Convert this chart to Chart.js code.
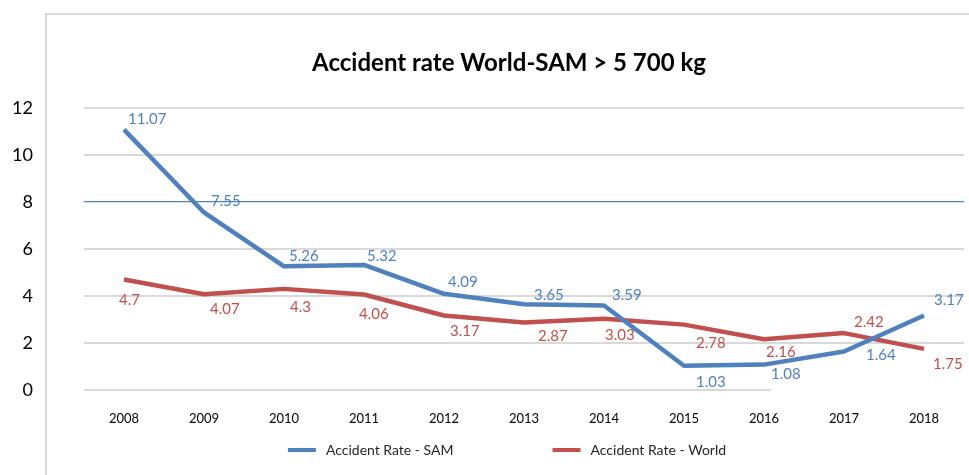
<!DOCTYPE html>
<html>
<head>
<meta charset="utf-8">
<title>Accident rate World-SAM</title>
<script src="https://cdn.jsdelivr.net/npm/chart.js@4.4.1/dist/chart.umd.min.js"></script>
<style>
  html, body { margin: 0; padding: 0; background: #fff; }
</style>
</head>
<body>
<canvas id="accidentChart" width="969" height="475"></canvas>
<script>
/* data */
const years = ['2008', '2009', '2010', '2011', '2012', '2013', '2014', '2015', '2016', '2017', '2018'];
const samRate = [11.07, 7.55, 5.26, 5.32, 4.09, 3.65, 3.59, 1.03, 1.08, 1.64, 3.17];
const worldRate = [4.7, 4.07, 4.3, 4.06, 3.17, 2.87, 3.03, 2.78, 2.16, 2.42, 1.75];
const seriesNames = ['Accident Rate - SAM', 'Accident Rate - World'];
const yMin = 0;
const yMax = 12;
const yStep = 2;
const targetLevel = 8; // thin blue reference line

const BLUE = '#4f81bd';
const RED = '#c0504d';
const GRID = '#d9d9d9';

// where each value label sits relative to its point: [dx to left edge of text, dy]
const samLabelShift = [[4, -11], [7, -11], [5, -10], [3, -9], [4, -12], [10, -9], [8, -10], [12, 16], [7, 10], [22, 4], [10, -15]];
const worldLabelShift = [[-5, 21], [6, 15], [6, 18], [-5, 20], [6, 16], [14, 14], [1, 16], [12, 19], [2, 13], [10, -11], [9, 15]];

Chart.defaults.font.family = 'Lato';

/* frame, zero line, value labels and legend */
const decorations = {
    id: 'decorations',
    beforeDraw(chart) {
        const ctx = chart.ctx;
        ctx.save();
        ctx.strokeStyle = GRID;
        ctx.lineWidth = 2;
        ctx.beginPath();
        ctx.moveTo(46, chart.height);
        ctx.lineTo(46, 14);
        ctx.lineTo(chart.width, 14);
        ctx.stroke();
        ctx.restore();
    },
    beforeDatasetsDraw(chart) {
        // the zero grid line stops short in the original
        const ctx = chart.ctx;
        const x = chart.scales.x;
        const y = chart.scales.y;
        const yz = y.getPixelForValue(0);
        ctx.save();
        ctx.strokeStyle = GRID;
        ctx.lineWidth = 2;
        ctx.beginPath();
        ctx.moveTo(chart.chartArea.left, yz);
        ctx.lineTo(x.getPixelForValue(8.09), yz);
        ctx.stroke();
        ctx.restore();
    },
    afterDatasetsDraw(chart) {
        const ctx = chart.ctx;
        const shifts = [samLabelShift, worldLabelShift];
        ctx.save();
        ctx.font = '15px Lato';
        ctx.textAlign = 'left';
        ctx.textBaseline = 'middle';
        chart.data.datasets.forEach((ds, i) => {
            const meta = chart.getDatasetMeta(i);
            ctx.fillStyle = ds.borderColor;
            meta.data.forEach((pt, j) => {
                const s = shifts[i][j];
                ctx.fillText(String(ds.data[j]), pt.x + s[0], pt.y + s[1]);
            });
        });
        ctx.restore();
    },
    afterDraw(chart) {
        const ctx = chart.ctx;
        const barW = 28;
        const gapText = 10;
        const gapItem = 99;
        const cy = 450;
        ctx.save();
        ctx.font = '14px Lato';
        ctx.textBaseline = 'middle';
        ctx.textAlign = 'left';
        const items = chart.data.datasets.map(ds => ({
            text: ds.label,
            color: ds.borderColor,
            w: barW + gapText + ctx.measureText(ds.label).width
        }));
        const total = items.reduce((a, it) => a + it.w, 0) + gapItem * (items.length - 1);
        let x = (chart.chartArea.left + chart.chartArea.right) / 2 - 17 - total / 2;
        items.forEach(it => {
            ctx.fillStyle = it.color;
            ctx.fillRect(x, cy - 2, barW, 4);
            ctx.fillStyle = '#262626';
            ctx.fillText(it.text, x + barW + gapText, cy);
            x += it.w + gapItem;
        });
        ctx.restore();
    }
};

const canvas = document.getElementById('accidentChart');

new Chart(canvas, {
    type: 'line',
    data: {
        labels: years,
        datasets: [
            {
                label: seriesNames[0],
                data: samRate,
                borderColor: BLUE,
                backgroundColor: BLUE,
                borderWidth: 4.5,
                borderJoinStyle: 'round',
                pointRadius: 0,
                tension: 0,
                clip: false
            },
            {
                label: seriesNames[1],
                data: worldRate,
                borderColor: RED,
                backgroundColor: RED,
                borderWidth: 4.5,
                borderJoinStyle: 'round',
                pointRadius: 0,
                tension: 0,
                clip: false
            }
        ]
    },
    options: {
        responsive: false,
        animation: false,
        layout: {
            padding: { left: 54, right: 5, top: 0, bottom: 45 }
        },
        plugins: {
            legend: { display: false },
            tooltip: { enabled: false },
            title: {
                display: true,
                text: 'Accident rate World-SAM > 5 700 kg',
                color: '#000',
                font: { family: 'Lato', size: 24, weight: 'bold' },
                padding: { top: 49, bottom: 30 }
            }
        },
        scales: {
            x: {
                offset: true,
                grid: { display: false, drawTicks: false },
                border: { display: false },
                ticks: {
                    color: '#000',
                    font: { size: 13 },
                    padding: 21,
                    maxRotation: 0
                },
                afterFit(scale) {
                    scale.height = 40;
                }
            },
            y: {
                min: yMin,
                max: yMax,
                ticks: {
                    stepSize: yStep,
                    color: '#000',
                    font: { size: 18 },
                    // labels sit outside the frame, left of the plot
                    mirror: true,
                    crossAlign: 'far',
                    padding: -72
                },
                grid: {
                    drawTicks: false,
                    color: c => c.tick.value === targetLevel ? BLUE : (c.tick.value === 0 ? 'rgba(0,0,0,0)' : GRID),
                    lineWidth: c => c.tick.value === targetLevel ? 1.3 : 2
                },
                border: { display: false },
                afterFit(scale) {
                    scale.width = 30;
                }
            }
        }
    },
    plugins: [decorations]
});
</script>
</body>
</html>
